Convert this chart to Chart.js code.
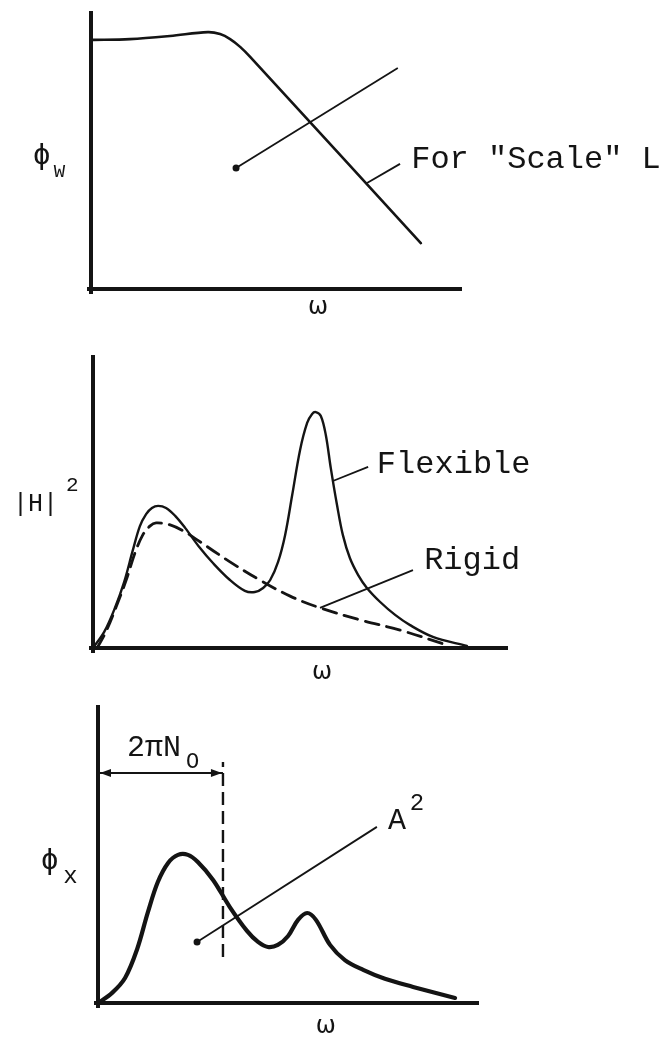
<!DOCTYPE html>
<html>
<head>
<meta charset="utf-8">
<script src="https://cdn.jsdelivr.net/npm/chart.js@4"></script>
<style>
  body { margin: 0; background: #fff; }
  canvas { position: absolute; left: 0; }
</style>
</head>
<body>
<canvas id="phiW" width="663" height="330" style="top:0px"></canvas>
<canvas id="gainH" width="663" height="355" style="top:330px"></canvas>
<canvas id="phiX" width="663" height="352" style="top:685px"></canvas>
<script>
// Schematic spectra, all in arbitrary units (omega 0..10, value 0..10)

// panel 1: input spectrum phi_w
const wOmega = [0, 1.05, 2.13, 3.15, 3.48, 3.75, 4.02, 4.29, 8.89];
const wPhi   = [8.96, 8.99, 9.10, 9.24, 9.17, 8.99, 8.71, 8.35, 1.65];

// panel 2: |H|^2 for flexible and rigid
const flexOmega = [0, 0.27, 0.51, 0.75, 0.96, 1.13, 1.28, 1.42, 1.57, 1.76, 1.98, 2.22, 2.58, 2.89,
                   3.30, 3.66, 3.90, 4.10, 4.27, 4.46, 4.63, 4.80, 4.99, 5.16, 5.28, 5.37, 5.49,
                   5.61, 5.73, 5.88, 6.02, 6.19, 6.39, 6.60, 6.92, 7.28, 7.64, 8.19, 9.01];
const flexH     = [0, 0.55, 1.30, 2.25, 3.34, 4.16, 4.57, 4.78, 4.85, 4.78, 4.51, 4.10, 3.41, 2.90,
                   2.32, 1.95, 1.91, 2.05, 2.32, 2.94, 3.86, 5.22, 6.76, 7.68, 7.99, 8.05, 7.92,
                   7.27, 6.14, 4.88, 3.86, 3.07, 2.49, 2.05, 1.57, 1.13, 0.78, 0.38, 0.07];
const rigidOmega = [0.10, 0.31, 0.55, 0.80, 1.01, 1.20, 1.37, 1.52, 1.86, 2.22, 2.51, 3.30, 4.02,
                    4.75, 5.47, 6.43, 7.40, 8.53];
const rigidH     = [0, 0.55, 1.37, 2.32, 3.24, 3.86, 4.16, 4.27, 4.20, 3.96, 3.69, 2.94, 2.32,
                    1.77, 1.37, 0.96, 0.61, 0.10];

// panel 3: response spectrum phi_x
const xOmega = [0, 0.37, 0.71, 1.02, 1.31, 1.57, 1.84, 2.10, 2.36, 2.62, 3.02, 3.46, 3.91, 4.20,
                4.46, 4.72, 4.99, 5.25, 5.49, 5.72, 6.09, 6.48, 6.96, 7.53, 8.27, 9.37];
const xPhi   = [0, 0.34, 0.84, 1.78, 3.05, 4.06, 4.70, 4.97, 4.97, 4.73, 4.13, 3.22, 2.42, 2.05,
                1.88, 1.95, 2.25, 2.79, 3.02, 2.79, 1.95, 1.44, 1.11, 0.81, 0.54, 0.17];
const cutoffOmega = 3.28;   // 2*pi*N0

const INK = '#141414';
const MONO = '"Liberation Mono", "DejaVu Sans Mono", monospace';

function points(xs, ys) {
  return xs.map((x, i) => ({ x: x, y: ys[i] }));
}

function at(chart, x, y) {
  return [chart.scales.x.getPixelForValue(x), chart.scales.y.getPixelForValue(y)];
}

function line(chart, a, b, width, dash) {
  const ctx = chart.ctx;
  const p = at(chart, a[0], a[1]), q = at(chart, b[0], b[1]);
  ctx.save();
  ctx.strokeStyle = INK;
  ctx.lineWidth = width;
  ctx.setLineDash(dash || []);
  ctx.beginPath();
  ctx.moveTo(p[0], p[1]);
  ctx.lineTo(q[0], q[1]);
  ctx.stroke();
  ctx.restore();
}

function dot(chart, a) {
  const ctx = chart.ctx;
  const p = at(chart, a[0], a[1]);
  ctx.fillStyle = INK;
  ctx.beginPath();
  ctx.arc(p[0], p[1], 3.5, 0, Math.PI * 2);
  ctx.fill();
}

function text(chart, str, a, size, family, align) {
  const ctx = chart.ctx;
  const p = at(chart, a[0], a[1]);
  ctx.save();
  ctx.fillStyle = INK;
  ctx.font = size + 'px ' + family;
  ctx.textAlign = align || 'left';
  ctx.textBaseline = 'middle';
  ctx.fillText(str, p[0], p[1]);
  ctx.restore();
}

function arrowHead(ctx, x, y, dir) {
  ctx.beginPath();
  ctx.moveTo(x, y);
  ctx.lineTo(x - dir * 11, y - 4);
  ctx.lineTo(x - dir * 11, y + 4);
  ctx.closePath();
  ctx.fill();
}

// axes drawn as heavy pen strokes along the left and bottom of the plot area
function drawAxes(chart) {
  const ctx = chart.ctx, a = chart.chartArea;
  ctx.save();
  ctx.strokeStyle = INK;
  ctx.lineWidth = 4;
  ctx.beginPath();
  ctx.moveTo(a.left, a.top);
  ctx.lineTo(a.left, a.bottom + 5);
  ctx.moveTo(a.left - 4, a.bottom);
  ctx.lineTo(a.right, a.bottom);
  ctx.stroke();
  ctx.restore();
}

function makeOptions(pad) {
  const axis = { type: 'linear', min: 0, max: 10, display: false };
  return {
    responsive: false,
    animation: false,
    devicePixelRatio: 1,
    layout: { padding: pad },
    plugins: { legend: { display: false }, tooltip: { enabled: false } },
    elements: { point: { radius: 0 } },
    scales: { x: Object.assign({}, axis), y: Object.assign({}, axis) }
  };
}

function curve(xs, ys, width, dash) {
  return {
    data: points(xs, ys),
    borderColor: INK,
    borderWidth: width,
    borderDash: dash || [],
    borderCapStyle: 'round',
    borderJoinStyle: 'round',
    tension: 0.35,
    fill: false,
    pointRadius: 0
  };
}

// Panel 1
new Chart(document.getElementById('phiW'), {
  type: 'line',
  data: { datasets: [curve(wOmega, wPhi, 2.6)] },
  options: makeOptions({ left: 91, top: 11, right: 201, bottom: 41 }),
  plugins: [{
    id: 'sketchW',
    afterDraw(chart) {
      drawAxes(chart);
      line(chart, [3.91, 4.35], [8.27, 7.95], 1.8);
      dot(chart, [3.91, 4.35]);
      line(chart, [7.44, 3.81], [8.33, 4.50], 1.8);
      text(chart, 'For "Scale" L', [8.63, 4.64], 32, MONO);
      text(chart, 'ϕ', [-1.33, 4.78], 29, '"DejaVu Sans Mono"', 'center');
      text(chart, 'W', [-0.85, 4.22], 19, MONO, 'center');
      text(chart, 'ω', [6.12, -0.68], 24, '"DejaVu Sans"', 'center');
    }
  }]
});

// Panel 2
new Chart(document.getElementById('gainH'), {
  type: 'line',
  data: { datasets: [curve(flexOmega, flexH, 2.4), curve(rigidOmega, rigidH, 2.8, [14, 8])] },
  options: makeOptions({ left: 93, top: 25, right: 155, bottom: 37 }),
  plugins: [{
    id: 'sketchH',
    afterDraw(chart) {
      drawAxes(chart);
      line(chart, [5.78, 5.70], [6.63, 6.18], 1.8);
      line(chart, [5.47, 1.37], [7.71, 2.66], 1.8);
      text(chart, 'Flexible', [6.84, 6.25], 32, MONO);
      text(chart, 'Rigid', [7.98, 3.00], 32, MONO);
      text(chart, '|H|', [-1.93, 4.91], 25, MONO);
      text(chart, '2', [-0.65, 5.56], 21, MONO);
      text(chart, 'ω', [5.52, -0.85], 24, '"DejaVu Sans"', 'center');
    }
  }]
});

// Panel 3
new Chart(document.getElementById('phiX'), {
  type: 'line',
  data: { datasets: [curve(xOmega, xPhi, 4.2)] },
  options: makeOptions({ left: 98, top: 20, right: 184, bottom: 34 }),
  plugins: [{
    id: 'sketchX',
    afterDraw(chart) {
      drawAxes(chart);
      line(chart, [cutoffOmega, 1.54], [cutoffOmega, 8.09], 2.4, [13, 6]);
      line(chart, [0, 7.72], [cutoffOmega, 7.72], 2);
      const l = at(chart, 0, 7.72), r = at(chart, cutoffOmega, 7.72);
      chart.ctx.fillStyle = INK;
      arrowHead(chart.ctx, l[0] + 2, l[1], -1);
      arrowHead(chart.ctx, r[0] - 1, r[1], 1);
      text(chart, '2πN', [0.76, 8.56], 30, MONO);
      text(chart, 'O', [2.48, 8.09], 22, MONO, 'center');
      line(chart, [2.60, 2.05], [7.32, 5.91], 1.8);
      dot(chart, [2.60, 2.05]);
      text(chart, 'A', [7.61, 6.11], 30, MONO);
      text(chart, '2', [8.37, 6.68], 24, MONO, 'center');
      text(chart, 'ϕ', [-1.27, 4.74], 29, '"DejaVu Sans Mono"', 'center');
      text(chart, 'x', [-0.72, 4.23], 24, MONO, 'center');
      text(chart, 'ω', [5.98, -0.81], 24, '"DejaVu Sans"', 'center');
    }
  }]
});
</script>
</body>
</html>
